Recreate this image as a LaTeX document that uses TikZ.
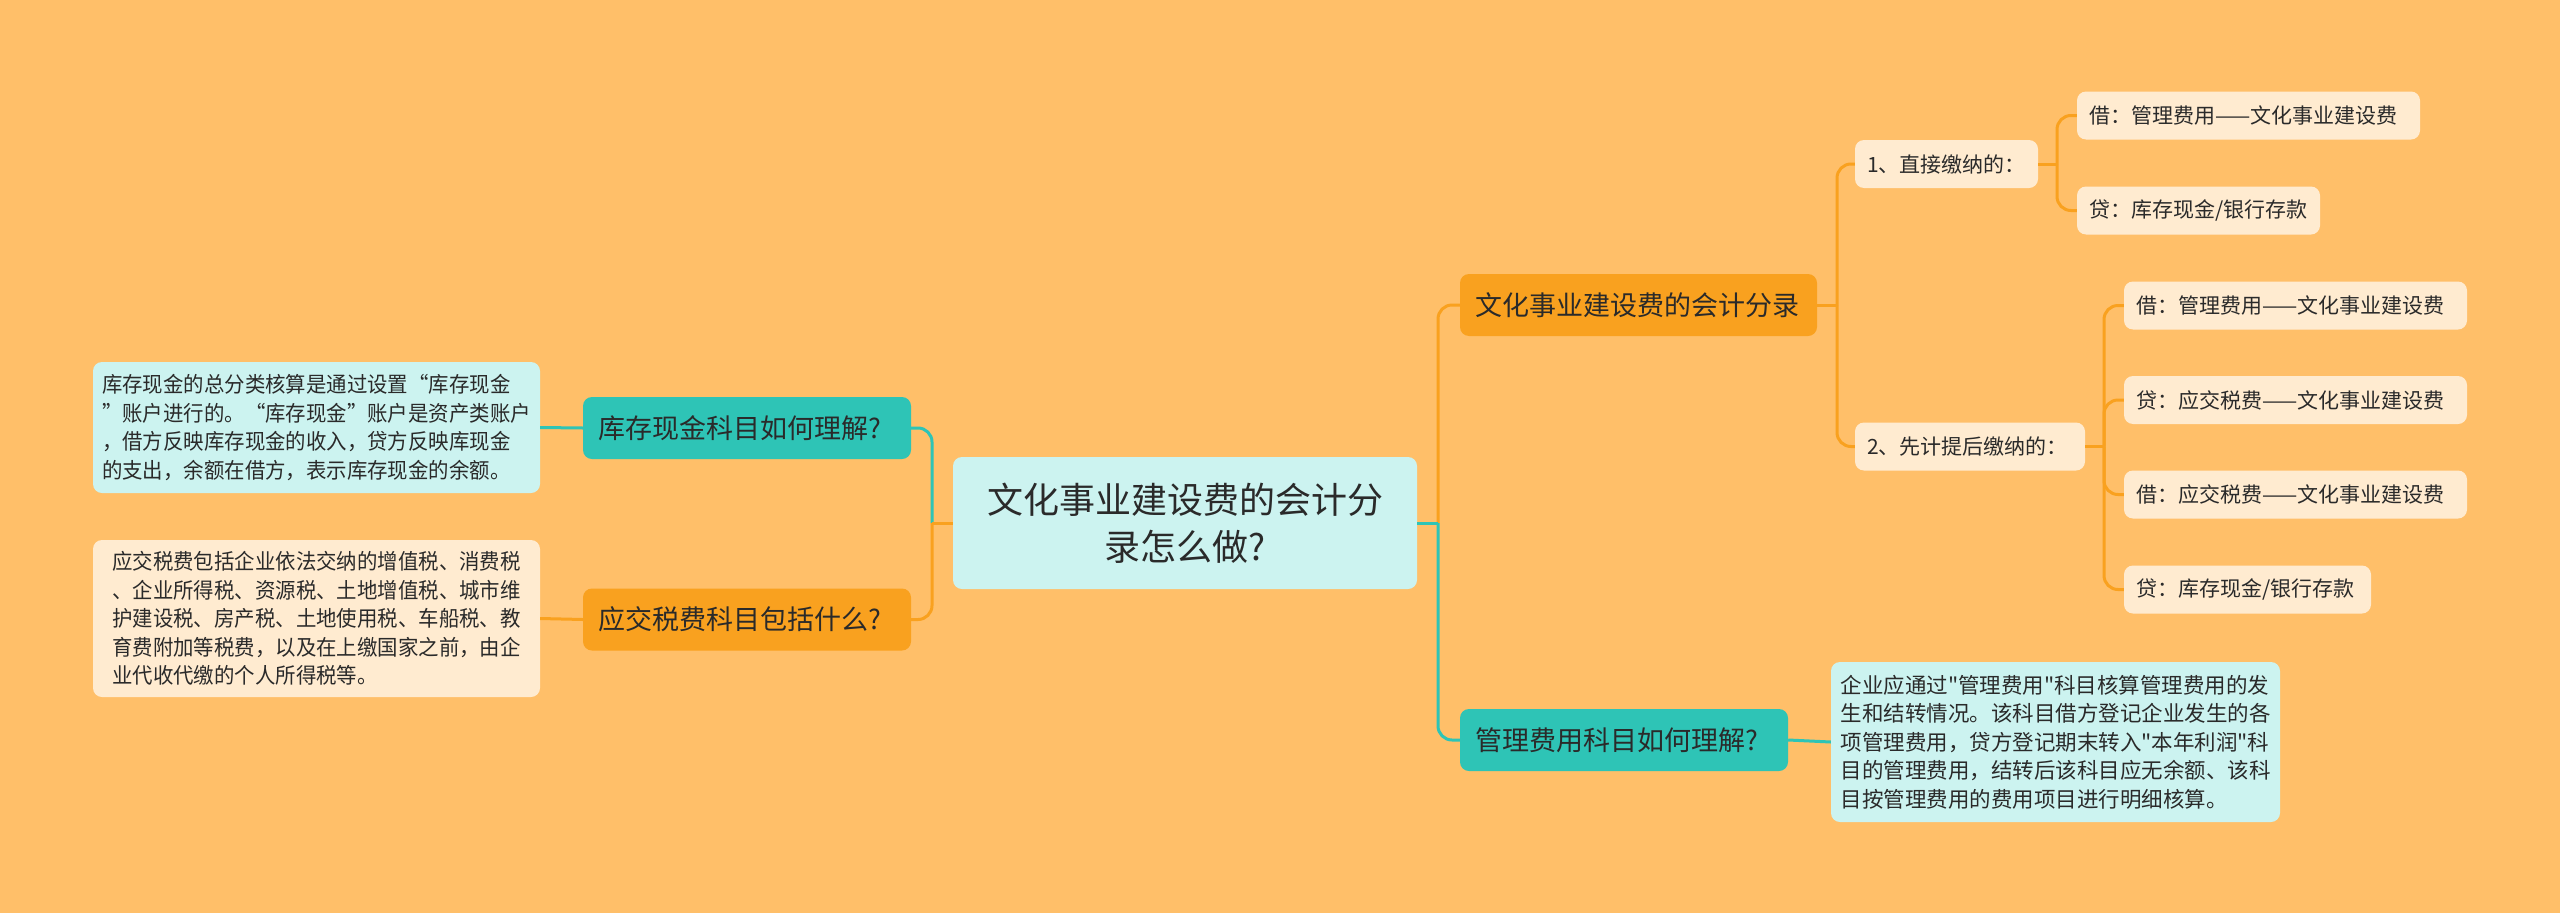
\documentclass[tikz,border=0pt]{standalone}
\usepackage{fontspec}
\newfontfamily\cjk{Noto Sans CJK SC}
\newfontfamily\cjknarrow{Noto Sans CJK SC}[FakeStretch=0.95]
\definecolor{bg}{HTML}{FFBF69}
\definecolor{orgc}{HTML}{F9A11F}
\definecolor{tealc}{HTML}{2EC4B6}
\definecolor{cyanl}{HTML}{CCF3F0}
\definecolor{cream}{HTML}{FFEBD0}
\definecolor{txt}{HTML}{2A2A2A}
\tikzset{
  box/.style={rounded corners=9, inner sep=0pt, text=txt, anchor=center, align=center},
  croot/.style={box, fill=cyanl, font=\cjk\fontsize{36}{47}\selectfont},
  lone/.style={box, align=left, font=\cjk\fontsize{27}{34}\selectfont, minimum height=62, minimum width=#1, text width={#1-30}},
  ltwo/.style={box, align=left, fill=cream, font=\cjk\fontsize{21}{26}\selectfont, minimum height=48, minimum width=#1, text width={#1-24}},
  ldet/.style={box, align=left, font=\cjk\fontsize{21.5}{28.5}\selectfont},
  ldetn/.style={box, align=left, font=\cjknarrow\fontsize{21.5}{28.5}\selectfont},
  oline/.style={draw=orgc, line width=3pt},
  tline/.style={draw=tealc, line width=3pt},
  elbow/.style={rounded corners=14}
}
\begin{document}
\begin{tikzpicture}[x=1pt,y=-1pt]
\fill[bg] (0,0) rectangle (2560,913);
% nodes
\node[croot, minimum width=464, minimum height=132] (C) at (1185,523) {文化事业建设费的会计分\\录怎么做?};
\node[lone=328, fill=tealc] (L1a) at (747,428) {库存现金科目如何理解?};
\node[lone=328, fill=orgc] (L1b) at (747,619.5) {应交税费科目包括什么?};
\node[ldetn, fill=cyanl, minimum width=447, minimum height=131] (D1) at (316.5,427.5) {库存现金的总分类核算是通过设置“库存现金\\”账户进行的。“库存现金”账户是资产类账户\\，借方反映库存现金的收入，贷方反映库现金\\的支出，余额在借方，表示库存现金的余额。};
\node[ldetn, fill=cream, minimum width=447, minimum height=157] (D2) at (316.5,618.5) {应交税费包括企业依法交纳的增值税、消费税\\、企业所得税、资源税、土地增值税、城市维\\护建设税、房产税、土地使用税、车船税、教\\育费附加等税费，以及在上缴国家之前，由企\\业代收代缴的个人所得税等。};
\node[lone=357, fill=orgc] (R1) at (1638.5,305) {文化事业建设费的会计分录};
\node[lone=328, fill=tealc] (R2) at (1624,740) {管理费用科目如何理解?};
\node[ldet, fill=cyanl, minimum width=449, minimum height=160] (D3) at (2055.5,742) {企业应通过"管理费用"科目核算管理费用的发\\生和结转情况。该科目借方登记企业发生的各\\项管理费用，贷方登记期末转入"本年利润"科\\目的管理费用，结转后该科目应无余额、该科\\目按管理费用的费用项目进行明细核算。};
\node[ltwo=183] (A) at (1946.5,164) {1、直接缴纳的：};
\node[ltwo=343] (A1) at (2248.5,115.5) {借：管理费用——文化事业建设费};
\node[ltwo=243] (A2) at (2198.5,210.5) {贷：库存现金/银行存款};
\node[ltwo=230] (B) at (1970,446.5) {2、先计提后缴纳的：};
\node[ltwo=343] (B1) at (2295.5,305.5) {借：管理费用——文化事业建设费};
\node[ltwo=343] (B2) at (2295.5,400) {贷：应交税费——文化事业建设费};
\node[ltwo=343] (B3) at (2295.5,494.5) {借：应交税费——文化事业建设费};
\node[ltwo=247] (B4) at (2247.5,589.5) {贷：库存现金/银行存款};
% junctions
\coordinate (jl) at (932,523);
\coordinate (jr) at (1438,523);
\coordinate (jR1) at (1837,305);
\coordinate (jA) at (2057,164);
\coordinate (jB) at (2104,446.5);
% connectors
\draw[tline, elbow] (jl) |- (L1a.east);
\draw[oline, elbow] (jl) |- (L1b.east);
\draw[oline] (C.west) -- (jl);
\draw[oline, elbow] (jr) |- (R1.west);
\draw[tline, elbow] (jr) |- (R2.west);
\draw[tline] (C.east) -- (jr);
\draw[tline] (L1a.west) -- (D1.east);
\draw[oline] (L1b.west) -- (D2.east);
\draw[tline] (R2.east) -- (D3.west);
\draw[oline] (R1.east) -- (jR1);
\draw[oline, elbow] (jR1) |- (A.west);
\draw[oline, elbow] (jR1) |- (B.west);
\draw[oline] (A.east) -- (jA);
\draw[oline, elbow] (jA) |- (A1.west);
\draw[oline, elbow] (jA) |- (A2.west);
\draw[oline] (B.east) -- (jB);
\draw[oline, elbow] (jB) |- (B1.west);
\draw[oline, elbow] (jB) |- (B2.west);
\draw[oline, elbow] (jB) |- (B3.west);
\draw[oline, elbow] (jB) |- (B4.west);
\end{tikzpicture}
\end{document}
